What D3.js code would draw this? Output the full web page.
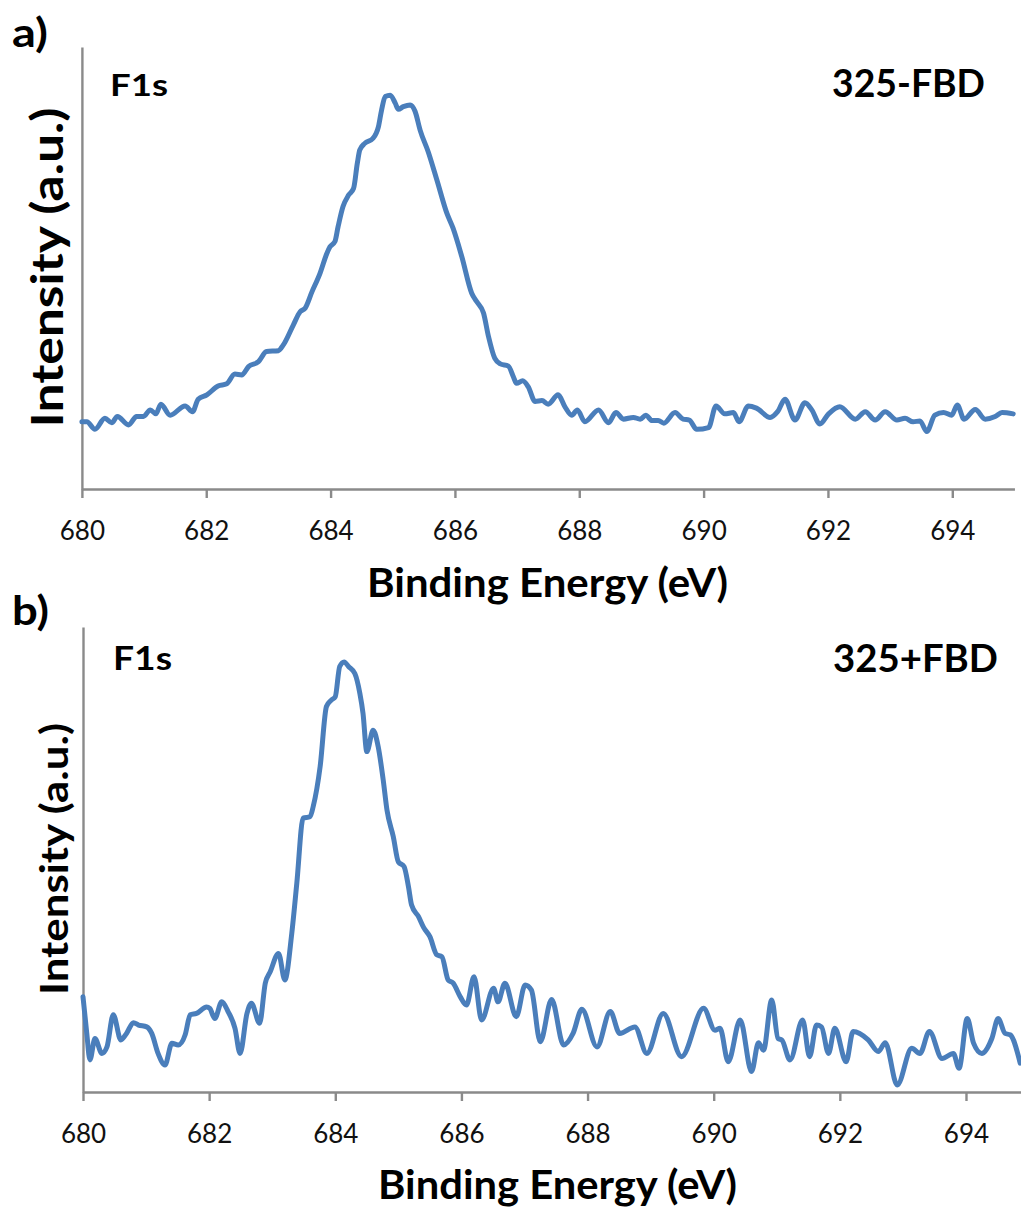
<!DOCTYPE html>
<html>
<head>
<meta charset="utf-8">
<script src="https://cdn.jsdelivr.net/npm/d3@7"></script>
<style>
  html, body { margin: 0; padding: 0; background: #fff; }
  svg { display: block; }
</style>
</head>
<body>
<svg id="chart" width="1021" height="1209"></svg>
<script>
// ---------- DATA ----------
const tickValues = [680, 682, 684, 686, 688, 690, 692, 694];

// Panel a) 325-FBD, F1s
const energyA = [680.00,680.08,680.21,680.37,680.48,680.57,680.75,680.88,680.99,681.10,681.19,681.27,681.42,681.66,681.78,681.87,682.01,682.19,682.33,682.46,682.57,682.68,682.84,682.97,683.16,683.24,683.40,683.51,683.59,683.70,683.83,683.94,683.99,684.07,684.12,684.20,684.29,684.37,684.43,684.47,684.55,684.68,684.77,684.82,684.88,684.96,685.04,685.09,685.17,685.28,685.36,685.44,685.57,685.71,685.87,685.97,686.11,686.27,686.35,686.46,686.54,686.64,686.73,686.86,686.94,686.99,687.09,687.18,687.29,687.40,687.50,687.66,687.77,687.88,687.97,688.09,688.31,688.47,688.59,688.71,688.87,688.98,689.07,689.17,689.27,689.36,689.54,689.67,689.77,689.89,690.08,690.20,690.34,690.48,690.57,690.72,690.85,691.07,691.19,691.31,691.47,691.63,691.74,691.87,692.01,692.19,692.44,692.60,692.76,692.92,693.11,693.24,693.37,693.48,693.59,693.72,693.86,693.99,694.08,694.19,694.37,694.53,694.69,694.80,694.98];
const intensityA = [15.2,15.2,13.5,16.0,15.0,16.4,14.5,16.4,16.4,17.9,17.0,19.2,16.7,18.8,17.5,20.3,21.3,23.3,23.8,26.0,25.8,27.7,28.8,31.1,31.3,32.6,37.1,40.1,40.9,44.6,48.8,53.3,54.8,56.0,59.3,63.9,66.5,68.0,73.7,76.7,78.2,79.3,82.0,85.7,88.8,89.1,87.3,85.9,86.5,86.9,85.4,81.2,76.3,69.9,62.4,59.0,52.6,44.3,42.4,39.8,34.5,29.6,28.3,27.8,25.4,23.9,24.5,23.1,19.8,20.0,19.2,21.3,18.6,16.7,17.9,15.2,17.9,15.0,17.3,15.8,16.2,15.8,16.7,15.5,15.5,14.9,17.3,15.8,15.6,13.5,13.9,18.8,17.0,17.3,15.2,18.8,18.3,16.2,17.5,20.3,15.6,19.5,17.9,14.7,17.0,18.6,15.8,17.5,15.6,17.5,15.6,16.0,15.2,15.4,13.0,16.7,17.3,16.7,19.0,15.8,18.0,15.8,16.4,17.3,17.0];

// Panel b) 325+FBD, F1s
const energyB = [680.00,680.06,680.11,680.19,680.30,680.38,680.48,680.60,680.69,680.80,680.88,681.01,681.09,681.19,681.30,681.41,681.51,681.62,681.70,681.80,681.96,682.01,682.09,682.20,682.30,682.41,682.49,682.60,682.67,682.80,682.89,682.97,683.10,683.20,683.31,683.39,683.49,683.60,683.65,683.76,683.86,683.94,684.00,684.07,684.14,684.21,684.31,684.39,684.44,684.50,684.60,684.68,684.76,684.82,684.92,685.00,685.09,685.16,685.21,685.32,685.40,685.50,685.61,685.69,685.79,685.87,685.98,686.08,686.20,686.32,686.51,686.58,686.69,686.87,687.01,687.11,687.25,687.43,687.62,687.77,687.91,688.15,688.36,688.51,688.75,688.94,689.20,689.49,689.84,690.02,690.10,690.23,690.42,690.60,690.71,690.79,690.92,691.02,691.08,691.21,691.41,691.52,691.63,691.71,691.82,691.92,692.10,692.21,692.45,692.61,692.72,692.91,693.14,693.27,693.42,693.62,693.80,693.89,694.02,694.12,694.25,694.41,694.51,694.62,694.70,694.86];
const intensityB = [20.5,12.6,6.9,11.5,8.3,9.7,16.6,11.2,12.6,14.9,14.4,14.0,12.6,8.3,5.8,10.5,10.1,12.3,16.6,16.9,18.3,18.0,15.8,19.4,17.3,13.7,8.3,16.9,19.1,14.8,23.4,25.9,29.8,24.1,34.1,44.9,58.9,59.2,61.4,70.0,82.9,84.3,85.0,91.5,92.5,91.5,90.0,85.7,81.4,73.2,77.8,74.3,67.1,60.6,54.9,49.5,48.5,44.2,40.2,37.7,35.4,33.4,29.5,29.1,24.1,23.4,20.5,18.7,24.8,15.5,22.3,19.4,23.4,16.2,23.0,21.9,10.8,19.9,10.1,12.6,17.8,9.7,17.3,12.6,14.0,8.3,16.9,7.6,18.0,13.3,13.7,6.5,15.5,4.4,10.6,9.0,19.8,11.5,11.2,6.9,15.5,7.6,14.4,14.0,8.3,13.7,6.5,13.0,11.2,8.7,10.6,1.5,9.4,8.3,13.0,7.2,8.3,5.1,15.8,10.5,8.3,11.5,15.8,12.6,12.3,6.2];

const panelLetters = ["a)", "b)"];
const sampleNames = ["325-FBD", "325+FBD"];
const peakName = "F1s";
const xTitle = "Binding Energy (eV)";
const yTitle = "Intensity (a.u.)";

// ---------- DRAWING ----------
const svg = d3.select("#chart");
svg.append("rect").attr("width", 1021).attr("height", 1209).attr("fill", "#fff");

const FONT = "Lato, 'Open Sans', 'DejaVu Sans', sans-serif";
const AXIS_COLOR = "#8a8a8a";
const LINE_COLOR = "#4a7ebb";

const panels = [
  {
    energy: energyA, intensity: intensityA,
    x0: 81.9, x1: 81.9 + 15 * 62.17, yTop: 47, yBot: 489,
    letter: { x: 12, y: 47, size: 40, len: 36 },
    peak: { x: 110, y: 96, size: 30, len: 58 },
    sample: { x: 985, y: 97, size: 39, len: 153 },
    xt: { cx: 547.5, y: 597, size: 40, len: 361 },
    yt: { bx: 63, cy: 267.5, size: 44, len: 320 },
    tickBase: 51
  },
  {
    energy: energyB, intensity: intensityB,
    x0: 83, x1: 83 + 15 * 63.07, yTop: 627, yBot: 1092,
    letter: { x: 12, y: 625, size: 40, len: 37 },
    peak: { x: 113, y: 670, size: 32, len: 59 },
    sample: { x: 998, y: 672, size: 39, len: 165 },
    xt: { cx: 557.5, y: 1199, size: 40, len: 359 },
    yt: { bx: 68, cy: 859, size: 39, len: 272 },
    tickBase: 51
  }
];

panels.forEach((p, i) => {
  const g = svg.append("g");
  const x = d3.scaleLinear().domain([680, 695]).range([p.x0, p.x1]);
  const y = d3.scaleLinear().domain([0, 100]).range([p.yBot, p.yTop]);

  // y axis (no ticks)
  const yAxisG = g.append("g")
    .attr("transform", `translate(${p.x0},0)`)
    .call(d3.axisLeft(y).tickValues([]).tickSizeOuter(0));
  yAxisG.select(".domain").attr("stroke", AXIS_COLOR).attr("stroke-width", 2.4);

  // x axis
  const xAxisG = g.append("g")
    .attr("transform", `translate(0,${p.yBot})`)
    .call(d3.axisBottom(x).tickValues(tickValues).tickSize(9).tickSizeOuter(0).tickFormat(d3.format("d")));
  xAxisG.select(".domain").attr("stroke", AXIS_COLOR).attr("stroke-width", 2.4);
  xAxisG.selectAll(".tick line").attr("stroke", AXIS_COLOR).attr("stroke-width", 2.4);
  xAxisG.selectAll(".tick text")
    .attr("y", p.tickBase).attr("dy", 0)
    .attr("fill", "#111")
    .style("font-family", FONT).style("font-size", "26px");

  // data line
  const data = p.energy.map((e, k) => [e, p.intensity[k]]);
  g.append("path")
    .datum(data)
    .attr("fill", "none")
    .attr("stroke", LINE_COLOR)
    .attr("stroke-width", 5)
    .attr("stroke-linejoin", "round")
    .attr("stroke-linecap", "round")
    .attr("d", d3.line().x(d => x(d[0])).y(d => y(d[1])).curve(d3.curveMonotoneX));

  // texts
  g.append("text").text(panelLetters[i])
    .attr("x", p.letter.x).attr("y", p.letter.y)
    .attr("textLength", p.letter.len).attr("lengthAdjust", "spacingAndGlyphs")
    .style("font-family", FONT).style("font-weight", 700).style("font-size", p.letter.size + "px");

  g.append("text").text(peakName)
    .attr("x", p.peak.x).attr("y", p.peak.y)
    .attr("textLength", p.peak.len).attr("lengthAdjust", "spacingAndGlyphs")
    .style("font-family", FONT).style("font-weight", 700).style("font-size", p.peak.size + "px");

  g.append("text").text(sampleNames[i])
    .attr("x", p.sample.x - p.sample.len).attr("y", p.sample.y)
    .attr("textLength", p.sample.len).attr("lengthAdjust", "spacingAndGlyphs")
    .style("font-family", FONT).style("font-weight", 700).style("font-size", p.sample.size + "px");

  g.append("text").text(xTitle)
    .attr("x", p.xt.cx - p.xt.len / 2).attr("y", p.xt.y)
    .attr("textLength", p.xt.len).attr("lengthAdjust", "spacingAndGlyphs")
    .style("font-family", FONT).style("font-weight", 700).style("font-size", p.xt.size + "px");

  g.append("text").text(yTitle)
    .attr("transform", `translate(${p.yt.bx},${p.yt.cy + p.yt.len / 2}) rotate(-90)`)
    .attr("x", 0).attr("y", 0)
    .attr("textLength", p.yt.len).attr("lengthAdjust", "spacingAndGlyphs")
    .style("font-family", FONT).style("font-weight", 700).style("font-size", p.yt.size + "px");
});
</script>
</body>
</html>
